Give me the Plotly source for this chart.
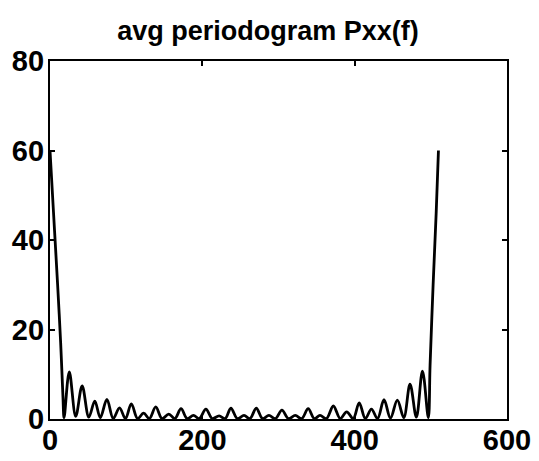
import plotly.graph_objects as go

# Frequency index and averaged periodogram values
freq = [0, 2, 6, 10, 14, 17, 18.5,
        25.3, 33.8, 42.2, 51, 58.8, 66, 74.7, 83, 91.3, 99, 106.8, 115,
        122.9, 130.5, 138.8, 147, 155.9, 164, 172, 180, 188.3, 196, 204.7, 213,
        222, 230, 237.5, 246, 254.7, 262.5, 270.8, 279, 287.4, 296, 304.5, 313,
        322, 330.5, 339, 347, 354.5, 363, 372, 381, 389.5, 398, 406, 414,
        422, 430, 438.5, 447, 456, 464.5, 472.7, 481, 489, 496.7,
        499, 503, 507, 510]
pxx = [60, 54, 42, 30, 17, 5, 0.3,
       10.5, 0.6, 7.4, 0.4, 4.0, 0.3, 4.4, 0.1, 2.5, 0.1, 3.4, 0.1,
       1.3, 0.1, 2.7, 0.1, 1.1, 0.1, 2.3, 0.1, 0.8, 0.1, 2.2, 0.1,
       0.7, 0.1, 2.4, 0.1, 0.8, 0.1, 2.4, 0.1, 0.8, 0.1, 2.0, 0.1,
       0.8, 0.1, 2.3, 0.1, 0.8, 0.1, 2.9, 0.1, 1.6, 0.1, 3.6, 0.1,
       2.2, 0.1, 4.3, 0.2, 4.2, 0.3, 7.8, 0.4, 10.7, 0.3,
       12, 30, 46, 60]

x_ticks = [0, 200, 400, 600]
y_ticks = [0, 20, 40, 60, 80]

FONT = "Liberation Sans, Arial, Helvetica, sans-serif"

W, H = 531, 453  # page body has an 8 px margin

fig = go.Figure()
fig.add_trace(go.Scatter(
    x=freq, y=pxx, mode="lines",
    line=dict(color="black", width=2.8, shape="spline", smoothing=1.0),
    showlegend=False, hoverinfo="skip",
))

axis_common = dict(
    showline=True, linecolor="black", linewidth=2.2, mirror="ticks",
    ticks="inside", ticklen=5, tickwidth=2, tickcolor="black",
    showgrid=False, zeroline=False, automargin=False,
    tickfont=dict(family=FONT, size=29, color="black", weight="bold"),
)

fig.update_layout(
    width=W, height=H,
    margin=dict(l=42, r=32, t=53, b=42),
    paper_bgcolor="white", plot_bgcolor="white",
    title=dict(text="avg periodogram Pxx(f)", xref="container", x=260 / W,
               xanchor="center", yref="container", y=1 - 23 / H,
               yanchor="middle", automargin=False,
               font=dict(family=FONT, size=27, color="black", weight="bold")),
)
fig.update_xaxes(range=[0, 600], tickvals=x_ticks, ticklabelstandoff=-6,
                 **axis_common)
fig.update_yaxes(range=[0, 80], tickvals=y_ticks, ticklabelstandoff=-2,
                 **axis_common)

fig.write_html("out.html")
